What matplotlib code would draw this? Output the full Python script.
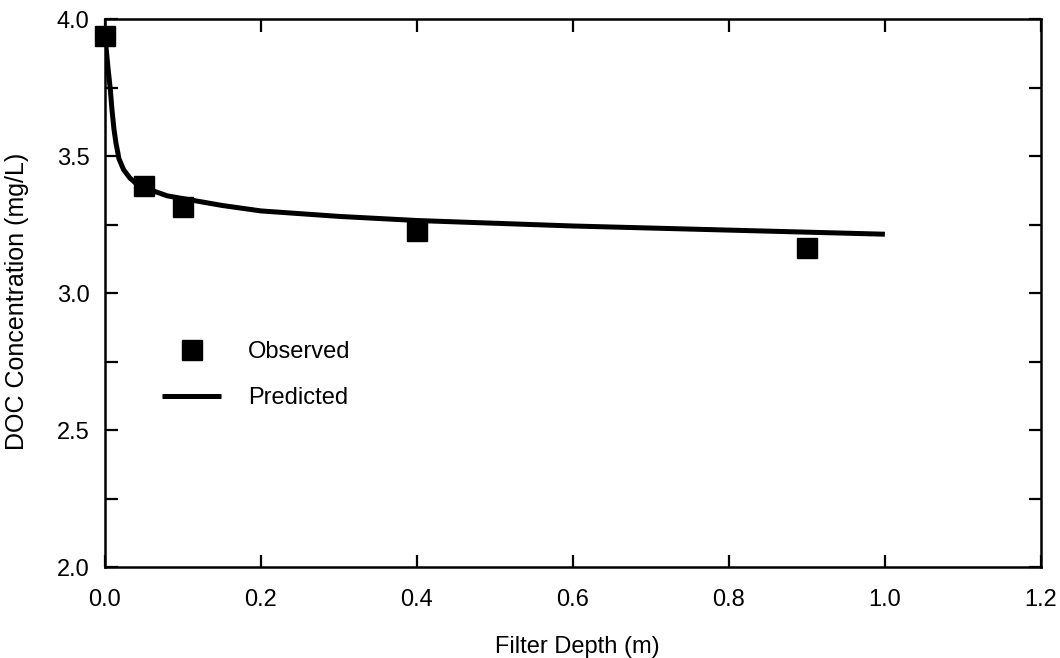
import matplotlib
matplotlib.use("Agg")
import matplotlib.pyplot as plt
from matplotlib.ticker import MultipleLocator
from matplotlib.lines import Line2D

plt.rcParams["font.family"] = ["Liberation Sans", "DejaVu Sans"]

# observed DOC concentrations
obs_depth = [0.0, 0.05, 0.10, 0.40, 0.90]
obs_doc = [3.94, 3.39, 3.315, 3.225, 3.165]

# predicted curve
pred_depth = [0.0, 0.002, 0.004, 0.007, 0.009, 0.0115, 0.014, 0.018, 0.024,
              0.032, 0.040, 0.050, 0.065, 0.080, 0.10, 0.15, 0.20, 0.30,
              0.40, 0.60, 0.80, 1.00]
pred_doc = [3.94, 3.88, 3.82, 3.74, 3.67, 3.60, 3.55, 3.49, 3.45,
            3.42, 3.40, 3.385, 3.37, 3.355, 3.345, 3.32, 3.30, 3.28,
            3.265, 3.245, 3.23, 3.215]

fig = plt.figure(figsize=(10.6, 6.58), dpi=100)
ax = fig.add_axes([0.099, 0.138, 0.883, 0.833])

ax.plot(pred_depth, pred_doc, "-", color="black", lw=3.6,
        solid_capstyle="butt", solid_joinstyle="round", zorder=2)
ax.plot(obs_depth, obs_doc, "s", color="black", ms=14, ls="none", zorder=3, clip_on=False)

ax.set_xlim(0, 1.2)
ax.set_ylim(2.0, 4.0)
ax.xaxis.set_major_locator(MultipleLocator(0.2))
ax.yaxis.set_major_locator(MultipleLocator(0.5))
ax.yaxis.set_minor_locator(MultipleLocator(0.25))
ax.xaxis.set_major_formatter(plt.FormatStrFormatter("%.1f"))
ax.yaxis.set_major_formatter(plt.FormatStrFormatter("%.1f"))
ax.tick_params(which="both", direction="in", top=True, right=True,
               length=9, width=1.6, labelsize=17, colors="black")
ax.tick_params(axis="x", pad=16)
ax.tick_params(axis="y", pad=11)
for s in ax.spines.values():
    s.set_linewidth(1.8)

ax.set_xlabel("Filter Depth (m)", fontsize=17)
ax.set_ylabel("DOC Concentration (mg/L)", fontsize=18)
# label positions in axes fraction (reference puts them a little off-centre)
ax.xaxis.set_label_coords(0.505, -0.125)
ax.yaxis.set_label_coords(-0.081, 0.485)

handles = [
    Line2D([], [], marker="s", color="black", ms=14, ls="none"),
    Line2D([], [], color="black", lw=3.6, solid_capstyle="butt"),
]
ax.legend(handles, ["Observed", "Predicted"], loc="upper left",
          bbox_to_anchor=(0.061, 0.413), frameon=False, fontsize=17,
          borderpad=0, borderaxespad=0,
          handlelength=2.5, handletextpad=1.15, labelspacing=1.03)

fig.savefig("out.png", dpi=100)
